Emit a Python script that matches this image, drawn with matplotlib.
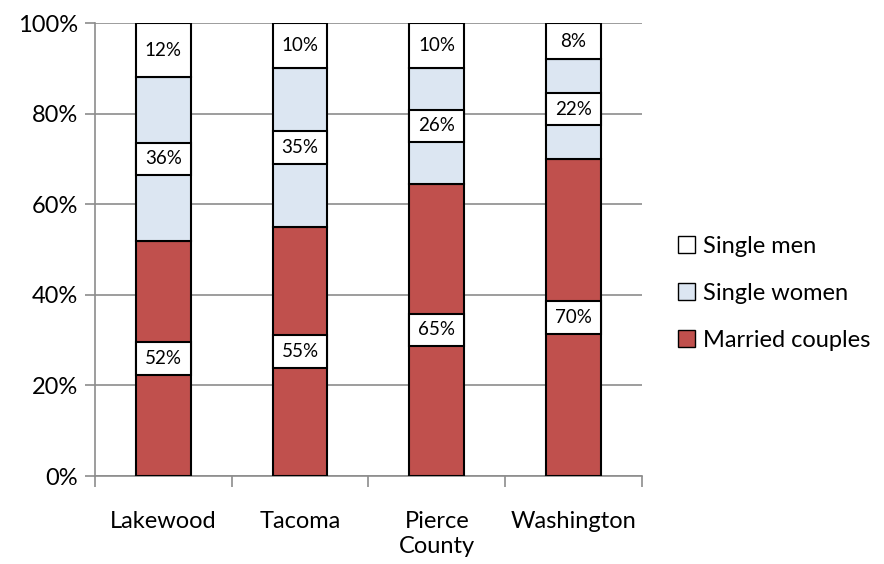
import numpy as np
import matplotlib.pyplot as plt
from matplotlib.patches import Patch

# data (share of households, %)
places = ['Lakewood', 'Tacoma', 'Pierce\nCounty', 'Washington']
married = [52, 55, 64.5, 70]
single_women = [36, 35, 25.6, 22]
single_men = [12, 10, 9.9, 8]
married_lbl = ['52%', '55%', '65%', '70%']
women_lbl = ['36%', '35%', '26%', '22%']
men_lbl = ['12%', '10%', '10%', '8%']

plt.rcParams['font.family'] = ['Lato', 'DejaVu Sans']

red = '#C0504D'
blue = '#DCE6F2'
grid_c = '#8C8C8C'

fig = plt.figure(figsize=(8.84, 5.64), dpi=100)
ax = fig.add_axes([0.1075, 0.156, 0.6185, 0.803])

x = np.arange(len(places))
w = 0.4
married = np.array(married)
single_women = np.array(single_women)
single_men = np.array(single_men)

ax.bar(x, married, w, color=red, edgecolor='black', linewidth=1.5, zorder=3)
ax.bar(x, single_women, w, bottom=married, color=blue, edgecolor='black', linewidth=1.5, zorder=3)
ax.bar(x, single_men, w, bottom=married + single_women, color='white', edgecolor='black', linewidth=1.5, zorder=3)

# label boxes as wide as the bars, centred in the coloured segments
box_h = 7.2
for mids, labels in [(married / 2, married_lbl),
                     (married + single_women / 2, women_lbl)]:
    ax.bar(x, box_h, w, bottom=mids - box_h / 2, color='white', edgecolor='black', linewidth=1.5, zorder=4)
    for xi, m, t in zip(x, mids, labels):
        ax.text(xi, m, t, ha='center', va='center', fontsize=13.5, zorder=5)
# white top segment needs no extra box
for xi, m, t in zip(x, married + single_women + single_men / 2, men_lbl):
    ax.text(xi, m, t, ha='center', va='center', fontsize=13.5, zorder=5)

ax.set_xlim(-0.5, len(places) - 0.5)
ax.set_ylim(0, 100)
ax.set_yticks(np.arange(0, 101, 20))
ax.set_yticklabels([f'{v}%' for v in range(0, 101, 20)], fontsize=17)
ax.yaxis.grid(True, color=grid_c, linewidth=1.2, zorder=0)

ax.set_xticks(x)
ax.set_xticklabels(places, fontsize=17, linespacing=1.25)
ax.set_xticks(np.arange(-0.5, len(places), 1), minor=True)
ax.tick_params(axis='x', which='major', length=0, pad=25)
ax.tick_params(axis='x', which='minor', length=8, color=grid_c, width=1.2)
ax.tick_params(axis='y', length=7, color=grid_c, width=1.2, pad=5)

for s in ['top', 'right']:
    ax.spines[s].set_visible(False)
for s in ['left', 'bottom']:
    ax.spines[s].set_color(grid_c)
    ax.spines[s].set_linewidth(1.2)

handles = [Patch(facecolor='white', edgecolor='black', label='Single men'),
           Patch(facecolor=blue, edgecolor='black', label='Single women'),
           Patch(facecolor=red, edgecolor='black', label='Married couples')]
fig.legend(handles=handles, loc='center left', bbox_to_anchor=(0.748, 0.48),
           frameon=False, fontsize=17, handlelength=0.75, handleheight=0.75,
           handletextpad=0.3, labelspacing=1.1, borderpad=0.2)

fig.savefig('out.png', dpi=100)
